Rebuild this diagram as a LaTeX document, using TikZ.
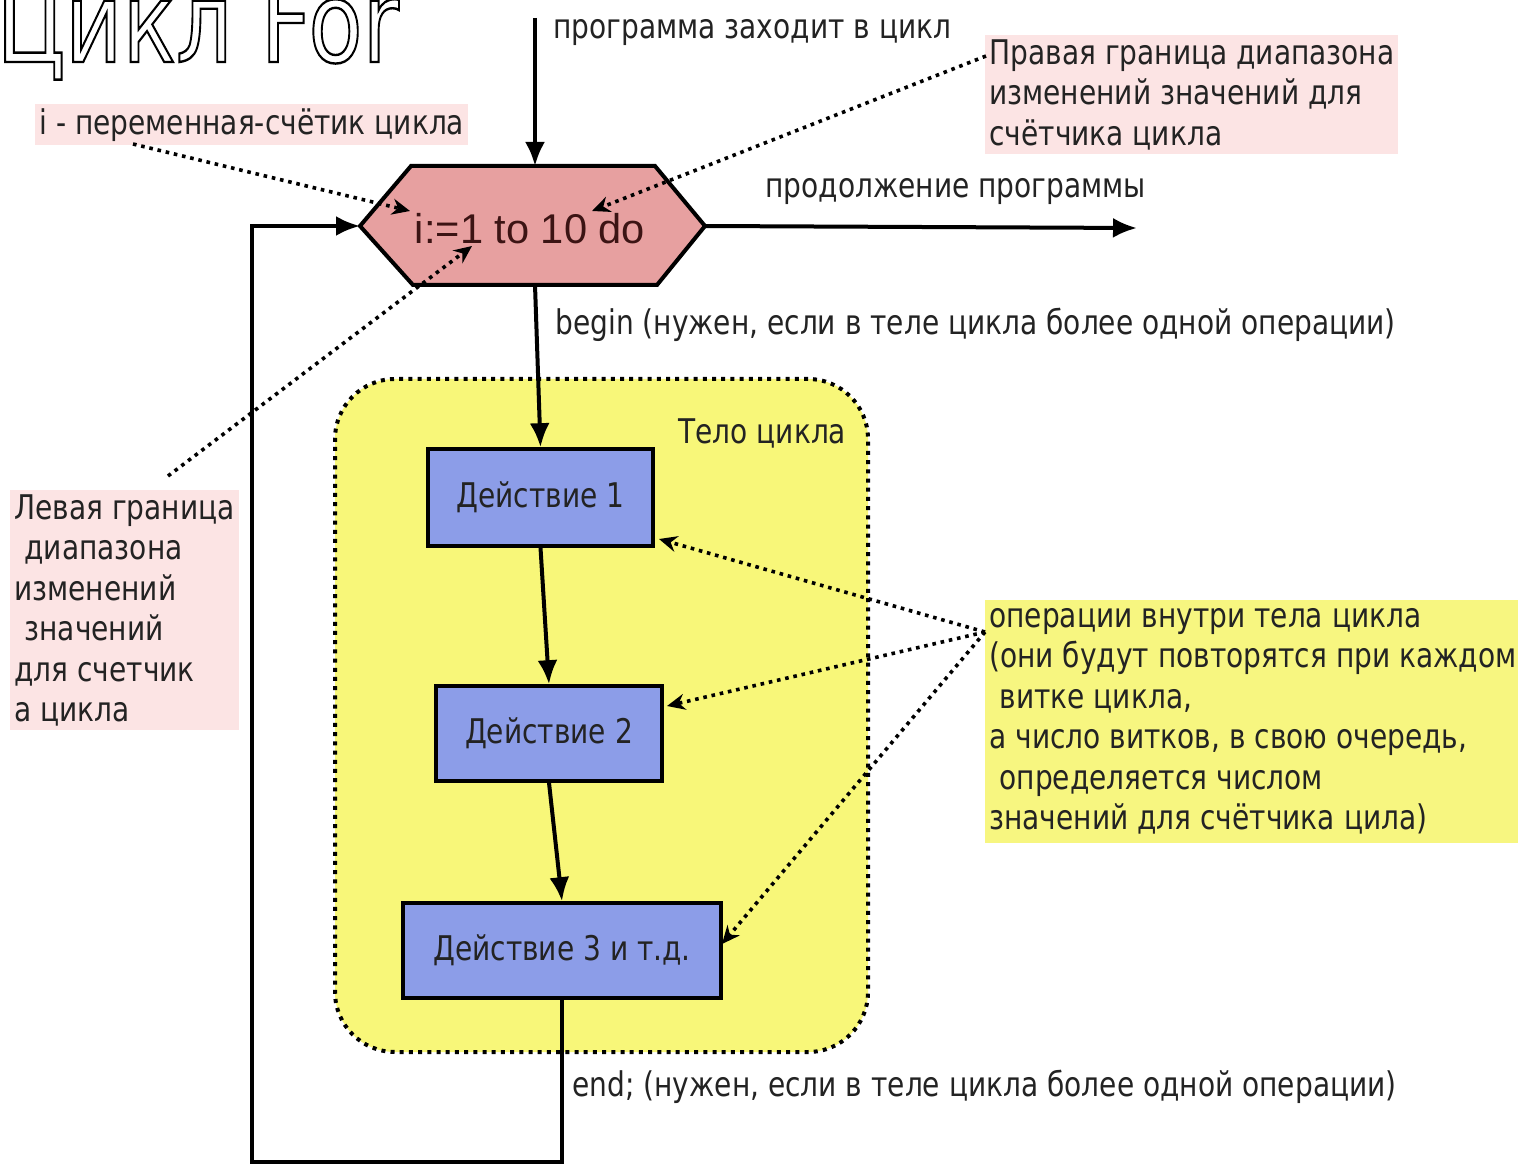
\documentclass[tikz,border=0pt]{standalone}
\usepackage{fontspec}
\setmainfont{DejaVu Sans}[FakeStretch=0.825]
\newfontfamily\titlefont{DejaVu Sans}
\newfontfamily\hexfont{Liberation Sans}
\usetikzlibrary{arrows.meta,calc}
\definecolor{hexpink}{RGB}{231,160,160}
\definecolor{boxblue}{RGB}{140,157,232}
\definecolor{bodyyel}{RGB}{248,247,121}
\definecolor{lblpink}{RGB}{252,228,228}
\definecolor{lblyel}{RGB}{247,246,128}
\definecolor{hextext}{RGB}{60,20,20}
\definecolor{ink}{RGB}{35,35,35}
\newcommand\txt{\fontsize{17pt}{20.25pt}\selectfont}
\begin{document}
\begin{tikzpicture}[x=0.5pt,y=-0.5pt,
  main/.style={line width=2pt,-{Latex[length=12pt,width=10pt]}},
  note/.style={line width=1.8pt,dash pattern=on 1.8pt off 2.4pt,-{Stealth[length=9pt,width=8pt]}},
  act/.style={draw,line width=1.8pt,fill=boxblue,inner sep=0pt,text=ink,font=\txt},
  lbl/.style={anchor=base west,inner sep=0pt,text=ink,font=\txt},
  tag/.style={anchor=north west,align=left,inner xsep=2pt,inner ysep=2pt,text=ink,font=\txt}]
\useasboundingbox (0,0) rectangle (1518,1165);
% title
\node[anchor=base west,inner sep=0pt] (title) at (-4,62)
  {\scalebox{0.79}[1]{\titlefont\fontsize{56pt}{56pt}\selectfont\special{pdf:literal direct 1 Tr 1.2 w}Цикл For\special{pdf:literal direct 0 Tr}}};
% loop body
\node[draw,fill=bodyyel,line width=2pt,dash pattern=on 2pt off 2.6pt,rounded corners=30pt,
  minimum width=266.5pt,minimum height=336.5pt,anchor=north west,inner sep=0pt] (body) at (333,377) {};
\node[lbl] (bodyname) at (678,444) {Тело цикла};
% hexagon
\draw[fill=hexpink,line width=2pt,line join=miter] (411,166) -- (655,166) -- (705,226) -- (657,285) -- (413,285) -- (360,226) -- cycle;
\node[inner sep=0pt,text=hextext,font=\hexfont\fontsize{20.8pt}{22pt}\selectfont] (hex) at (530,229) {i:=1 to 10 do};
\coordinate (hexT) at (535,166);
\coordinate (hexB) at (535,285);
\coordinate (hexL) at (360,226);
\coordinate (hexR) at (705,226);
% actions
\node[act,minimum width=112.5pt,minimum height=48.5pt] (a1) at (540.5,497.5) {Действие 1};
\node[act,minimum width=113pt,minimum height=47.5pt] (a2) at (549,733.5) {Действие 2};
\node[act,minimum width=159pt,minimum height=47.5pt] (a3) at (562,950.5) {Действие 3 и т.д.};
% flow
\coordinate (entry) at (535,18);
\coordinate (exit) at (1137,228);
\coordinate (lb) at (252,1162);
\draw[main] (entry) -- (hexT);
\draw[main] (hexR) -- (exit);
\draw[main] (hexB) -- (a1.north);
\draw[main] (a1.south) -- (a2.north);
\draw[main] (a2.south) -- (a3.north);
\draw[main] (a3.south) |- (lb) |- (hexL);
% flow labels
\node[lbl] (enter) at (553,39) {программа заходит в цикл};
\node[lbl] (cont) at (765,198) {продолжение программы};
\node[lbl] (beg) at (555,335) {begin (нужен, если в теле цикла более одной операции)};
\node[lbl] (endl) at (572,1096) {end; (нужен, если в теле цикла более одной операции)};
% annotation labels
\node[tag,fill=lblpink] (ivar) at (35,104) {i - переменная-счётик цикла};
\node[tag,fill=lblpink] (right) at (985,35) {Правая граница диапазона\\изменений значений для\\счётчика цикла};
\node[tag,fill=lblpink] (left) at (10,490) {Левая граница\\\hspace*{0.3em}диапазона\\изменений\\\hspace*{0.3em}значений\\для счетчик\\а цикла};
\node[tag,fill=lblyel,inner ysep=4pt] (ops) at (985,600) {операции внутри тела цикла\\(они будут повторятся при каждом\\\hspace*{0.3em}витке цикла,\\а число витков, в свою очередь,\\\hspace*{0.3em}определяется числом\\значений для счётчика цила)};
% annotation arrows
\coordinate (s1) at (133,144);
\coordinate (t1) at (410,211);
\coordinate (s2) at (986,56);
\coordinate (t2) at (592,211);
\coordinate (s3) at (168,476);
\coordinate (t3) at (472,246);
\coordinate (s4) at (985,632);
\coordinate (t4) at (659,539);
\coordinate (t5) at (667,706);
\coordinate (t6) at (722,944);
\draw[note] (s1) -- (t1);
\draw[note] (s2) -- (t2);
\draw[note] (s3) -- (t3);
\draw[note] (s4) -- (t4);
\draw[note] (s4) -- (t5);
\draw[note] (s4) -- (t6);
\end{tikzpicture}
\end{document}
